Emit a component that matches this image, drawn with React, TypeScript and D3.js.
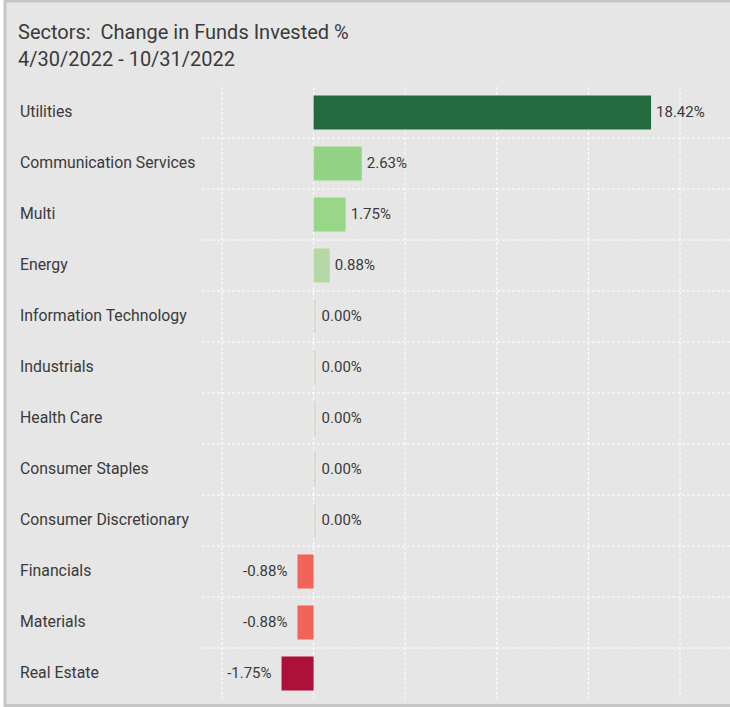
import React, { useEffect, useRef } from 'react';
import * as d3 from 'd3';

const sectors = [
  'Utilities',
  'Communication Services',
  'Multi',
  'Energy',
  'Information Technology',
  'Industrials',
  'Health Care',
  'Consumer Staples',
  'Consumer Discretionary',
  'Financials',
  'Materials',
  'Real Estate',
];
const changes = [18.42, 2.63, 1.75, 0.88, 0, 0, 0, 0, 0, -0.88, -0.88, -1.75];
const gridTicks = [-5, 0, 5, 10, 15, 20];
const titleLines = ['Sectors:  Change in Funds Invested %', '4/30/2022 - 10/31/2022'];

const W = 730;
const H = 707;

const barColor = (v: number) => {
  if (v >= 10) return '#236a3e';
  if (v >= 2) return '#93d385';
  if (v >= 1.5) return '#98d788';
  if (v > 0) return '#b5d8a6';
  if (v === 0) return '#cfdcc8';
  if (v > -1) return '#f26455';
  return '#ad1038';
};

const App: React.FC = () => {
  const svgRef = useRef<SVGSVGElement>(null);

  useEffect(() => {
    if (!svgRef.current) return;
    const svg = d3.select(svgRef.current);
    svg.selectAll('*').remove();

    const data = sectors.map((name, i) => ({ name, value: changes[i] }));

    // panel
    svg.append('rect')
      .attr('x', 5).attr('y', 1)
      .attr('width', 740).attr('height', 704.5)
      .attr('fill', '#e6e6e6')
      .attr('stroke', '#c6c6c6')
      .attr('stroke-width', 3);

    // title
    svg.append('g')
      .selectAll('text')
      .data(titleLines)
      .join('text')
        .attr('x', 18)
        .attr('y', (d, i) => 39 + i * 27)
        .attr('font-family', 'Roboto, sans-serif')
        .attr('font-size', 20)
        .attr('fill', '#3a3a3a')
        .style('white-space', 'pre')
        .text(d => d);

    const x = d3.scaleLinear().domain([-5, 20]).range([222, 680]);
    const y = d3.scaleBand<string>()
      .domain(sectors)
      .range([87, 699])
      .paddingInner(1 / 3)
      .paddingOuter(1 / 6);
    const step = y.step();
    const gap = step - y.bandwidth();

    const grid = svg.append('g')
      .attr('stroke', '#ffffff')
      .attr('stroke-width', 1)
      .attr('stroke-dasharray', '3,2');

    grid.selectAll('line.v')
      .data(gridTicks)
      .join('line')
        .attr('class', 'v')
        .attr('x1', d => x(d)).attr('x2', d => x(d))
        .attr('y1', 87).attr('y2', 699);

    grid.selectAll('line.h')
      .data(sectors.slice(0, -1))
      .join('line')
        .attr('class', 'h')
        .attr('x1', 202).attr('x2', W)
        .attr('y1', d => (y(d) as number) + y.bandwidth() + gap / 2)
        .attr('y2', d => (y(d) as number) + y.bandwidth() + gap / 2);

    // category labels
    svg.append('g')
      .selectAll('text')
      .data(data)
      .join('text')
        .attr('x', 20)
        .attr('y', d => (y(d.name) as number) + y.bandwidth() / 2)
        .attr('dy', '0.28em')
        .attr('font-family', 'Roboto, sans-serif')
        .attr('font-size', 15.8)
        .attr('fill', '#3a3a3a')
        .text(d => d.name);

    // bars
    svg.append('g')
      .selectAll('rect')
      .data(data)
      .join('rect')
        .attr('x', d => (d.value === 0 ? x(0) : Math.min(x(0), x(d.value))))
        .attr('y', d => y(d.name) as number)
        .attr('width', d => (d.value === 0 ? 2 : Math.abs(x(d.value) - x(0))))
        .attr('height', y.bandwidth())
        .attr('fill', d => barColor(d.value));

    // value labels
    svg.append('g')
      .selectAll('text')
      .data(data)
      .join('text')
        .attr('x', d => {
          if (d.value === 0) return x(0) + 8;
          return d.value > 0 ? x(d.value) + 5 : x(d.value) - 10;
        })
        .attr('y', d => (y(d.name) as number) + y.bandwidth() / 2)
        .attr('dy', '0.3em')
        .attr('text-anchor', d => (d.value < 0 ? 'end' : 'start'))
        .attr('font-family', 'Roboto, sans-serif')
        .attr('font-size', 15)
        .attr('fill', '#3a3a3a')
        .text(d => `${d.value.toFixed(2)}%`);
  }, []);

  return (
    <svg
      ref={svgRef}
      width={W}
      height={H}
      style={{ position: 'absolute', left: 0, top: 0, display: 'block' }}
    />
  );
};

export default App;
